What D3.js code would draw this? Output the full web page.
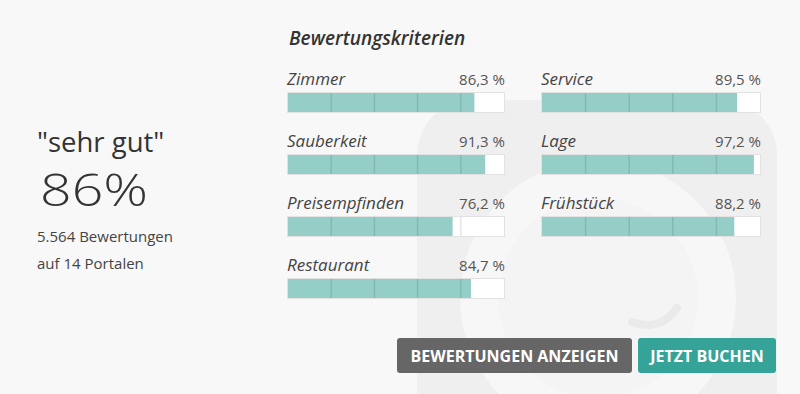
<!DOCTYPE html>
<html>
  <head>
    <meta charset="utf-8">
    <script type="text/javascript" src="https://cdnjs.cloudflare.com/ajax/libs/d3/7.8.5/d3.min.js"></script>
    <style>
      body { margin: 0; background: #f8f8f8; }
      text { font-family: "Open Sans", sans-serif; }
    </style>
  </head>
  <body>
  </body>
<script>
// review summary: criteria ratings in two columns
let leftCriteria = ["Zimmer", "Sauberkeit", "Preisempfinden", "Restaurant"];
let leftValues = [86.3, 91.3, 76.2, 84.7];
let rightCriteria = ["Service", "Lage", "Frühstück"];
let rightValues = [89.5, 97.2, 88.2];
let ticks = [20, 40, 60, 80];

let summaryLabel = "\"sehr gut\"";
let summaryScore = "86%";
let summaryLines = ["5.564 Bewertungen", "auf 14 Portalen"];

let width = 800, height = 394;

let svg = d3.select("body").append("svg")
    .attr("width", width)
    .attr("height", height);

// faint logo in the background
let logo = svg.append("g");
logo.append("rect")
    .attr("x", 417).attr("y", 100)
    .attr("width", 360).attr("height", 360)
    .attr("rx", 55)
    .style("fill", "#efefef");
logo.append("circle")
    .attr("cx", 598).attr("cy", 298)
    .attr("r", 138)
    .style("fill", "#f7f7f7");
logo.append("circle")
    .attr("cx", 598).attr("cy", 298)
    .attr("r", 100)
    .style("fill", "#f4f4f4");
logo.append("path")
    .attr("d", "M632,322 Q660,332 677,308")
    .attr("stroke", "#eaeaea")
    .attr("stroke-width", 8)
    .attr("stroke-linecap", "round")
    .attr("fill", "none");

// left summary
svg.append("text")
    .attr("x", 37).attr("y", 152)
    .style("font-size", "27.5px")
    .style("fill", "#333")
    .text(summaryLabel);
svg.append("text")
    .attr("x", 40).attr("y", 206)
    .attr("textLength", 108)
    .attr("lengthAdjust", "spacingAndGlyphs")
    .style("font-size", "45px")
    .style("font-weight", 300)
    .style("fill", "#333")
    .text(summaryScore);
svg.selectAll(".sumline")
    .data(summaryLines)
    .enter()
    .append("text")
        .attr("class", "sumline")
        .attr("x", 37)
        .attr("y", function(d, i){ return 242 + i * 27; })
        .style("font-size", "15px")
        .style("fill", "#444")
        .text(function(d){ return d; });

// header
svg.append("text")
    .attr("x", 289).attr("y", 45)
    .style("font-size", "19px")
    .style("font-style", "italic")
    .style("font-weight", 600)
    .style("fill", "#333")
    .text("Bewertungskriterien");

function drawColumn(names, values, x0, x1) {
    let xScale = d3.scaleLinear().domain([0, 100]).range([x0 + 1, x1 - 1]);
    let yScale = d3.scaleLinear().domain([0, 1]).range([92, 154]);
    let rows = svg.selectAll(null)
        .data(names.map(function(n, i){ return {name: n, value: values[i], i: i}; }))
        .enter()
        .append("g")
            .attr("transform", function(d){ return "translate(0," + yScale(d.i) + ")"; });

    rows.append("text")
        .attr("x", x0)
        .attr("y", -7)
        .style("font-size", "17px")
        .style("font-style", "italic")
        .style("fill", "#444")
        .text(function(d){ return d.name; });
    rows.append("text")
        .attr("x", x1)
        .attr("y", -7)
        .attr("text-anchor", "end")
        .style("font-size", "15px")
        .style("fill", "#555")
        .text(function(d){ return d3.format(".1f")(d.value).replace(".", ",") + " %"; });

    rows.append("rect")
        .attr("x", x0 + 0.5).attr("y", 0.5)
        .attr("width", x1 - x0 - 1).attr("height", 20)
        .style("fill", "#fff")
        .style("stroke", "#e2e2e2");
    rows.append("rect")
        .attr("x", xScale(0)).attr("y", 1)
        .attr("width", function(d){ return xScale(d.value) - xScale(0); })
        .attr("height", 19)
        .style("fill", "#95cec7");
    rows.selectAll(".tick")
        .data(function(d){ return ticks.map(function(t){ return {t: t, v: d.value}; }); })
        .enter()
        .append("line")
            .attr("x1", function(d){ return xScale(d.t); })
            .attr("x2", function(d){ return xScale(d.t); })
            .attr("y1", 1).attr("y2", 20)
            .style("stroke", function(d){ return d.t < d.v ? "#82bab3" : "#e6e6e6"; })
            .style("stroke-width", 1.5);
}

drawColumn(leftCriteria, leftValues, 287, 505);
drawColumn(rightCriteria, rightValues, 541, 761);

// buttons
let buttons = [
    {label: "BEWERTUNGEN ANZEIGEN", x: 397, w: 235, color: "#666666"},
    {label: "JETZT BUCHEN", x: 638, w: 138, color: "#35a398"}
];
let btn = svg.selectAll(".btn")
    .data(buttons)
    .enter()
    .append("g");
btn.append("rect")
    .attr("x", function(d){ return d.x; })
    .attr("y", 338)
    .attr("width", function(d){ return d.w; })
    .attr("height", 35)
    .attr("rx", 3)
    .style("fill", function(d){ return d.color; });
btn.append("text")
    .attr("x", function(d){ return d.x + d.w / 2; })
    .attr("y", 361.5)
    .attr("text-anchor", "middle")
    .style("font-size", "16px")
    .style("font-weight", 700)
    .style("fill", "#fff")
    .text(function(d){ return d.label; });
</script>
</html>
